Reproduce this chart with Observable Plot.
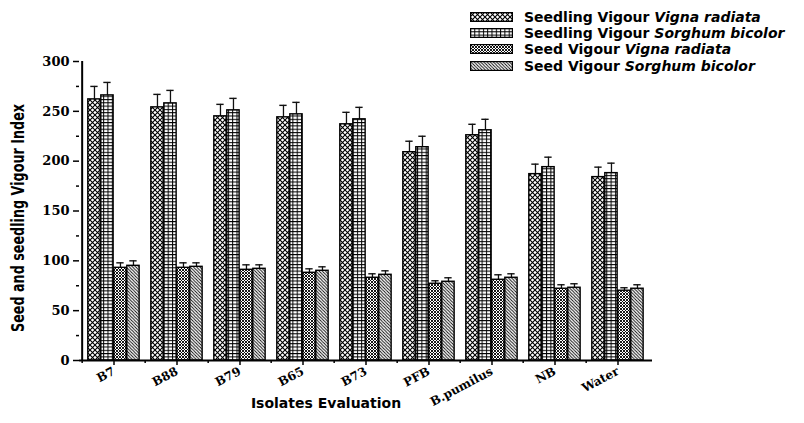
<!DOCTYPE html>
<html><head><meta charset="utf-8">
<script src="https://cdn.jsdelivr.net/npm/d3@7"></script>
<script src="https://cdn.jsdelivr.net/npm/@observablehq/plot@0.6"></script>
<style>
body{margin:0;background:#fff;}
#wrap{position:relative;width:804px;height:423px;}
#legend{position:absolute;left:470px;top:9px;font-family:"DejaVu Sans",sans-serif;font-weight:bold;font-size:14px;color:#000;}
.row{display:flex;align-items:center;height:16.2px;white-space:nowrap;}
.row svg{margin-right:11px;flex:none;}
.row i{font-style:italic;}
</style></head><body>
<div id="wrap">
<svg id="defs" width="0" height="0" style="position:absolute;left:0;top:0">
  <defs>
    <pattern id="p1" patternUnits="userSpaceOnUse" width="5" height="5">
      <rect width="5" height="5" fill="#fff"/>
      <path d="M0,0L5,5M5,0L0,5" stroke="#000" stroke-width="1.1"/>
    </pattern>
    <pattern id="p2" patternUnits="userSpaceOnUse" width="4.3" height="3.3">
      <rect width="4.3" height="3.3" fill="#fff"/>
      <path d="M0,0.5H4.3M0.5,0V3.3" stroke="#000" stroke-width="1"/>
    </pattern>
    <pattern id="p3" patternUnits="userSpaceOnUse" width="3" height="3">
      <rect width="3" height="3" fill="#fff"/>
      <path d="M0,0L3,3M3,0L0,3" stroke="#000" stroke-width="0.9"/>
    </pattern>
    <pattern id="p4" patternUnits="userSpaceOnUse" width="3.2" height="3.2">
      <rect width="3.2" height="3.2" fill="#fff"/>
      <path d="M0,0L3.2,3.2M-1,2.2L1,4.2M2.2,-1L4.2,1" stroke="#000" stroke-width="0.9"/>
    </pattern>
  </defs>
</svg>
<div id="chart"></div>
<div id="legend"></div>
</div>
<script>
const categories = ["B7","B88","B79","B65","B73","PFB","B.pumilus","NB","Water"];
const seedlingVigna      = [262, 254, 245, 244, 237, 209, 226, 187, 184];
const seedlingVignaErr   = [13, 13, 12, 12, 12, 11, 11, 10, 10];
const seedlingSorghum    = [266, 258, 251, 247, 242, 214, 231, 194, 188];
const seedlingSorghumErr = [13, 13, 12, 12, 12, 11, 11, 10, 10];
const seedVigna          = [93, 93, 91, 88, 83, 77, 81, 72, 70];
const seedVignaErr       = [5, 5, 5, 4, 4, 3, 5, 4, 3];
const seedSorghum        = [95, 94, 92, 90, 86, 79, 83, 73, 72];
const seedSorghumErr     = [5, 4, 4, 4, 4, 4, 4, 4, 4];
const yTicks = [0, 50, 100, 150, 200, 250, 300];
const yMinorTicks = [25, 75, 125, 175, 225, 275];
const seriesNames = [
  ["Seedling Vigour ", "Vigna radiata"],
  ["Seedling Vigour ", "Sorghum bicolor"],
  ["Seed Vigour ", "Vigna radiata"],
  ["Seed Vigour ", "Sorghum bicolor"]
];
const xTitle = "Isolates Evaluation";
const yTitle = "Seed and seedling Vigour Index";

const rows = categories.map((c, i) => ({
  cat: c,
  s0: seedlingVigna[i], e0: seedlingVignaErr[i],
  s1: seedlingSorghum[i], e1: seedlingSorghumErr[i],
  s2: seedVigna[i], e2: seedVignaErr[i],
  s3: seedSorghum[i], e3: seedSorghumErr[i]
}));
const fills = ["url(#p1)", "url(#p2)", "url(#p3)", "url(#p4)"];

const W = 804, H = 423, mL = 79, mR = 152, mT = 61, mB = 63;
const bw = (W - mL - mR) / categories.length;
const gIn = 5.8, barW = 13;
const serif = "'DejaVu Serif', serif";
const sans = "'DejaVu Sans', sans-serif";

const marks = [];
[0,1,2,3].forEach(k => {
  const l = gIn + barW * k, r = bw - l - barW;
  marks.push(Plot.ruleX(rows, {x: "cat", y1: "s" + k, y2: d => d["s"+k] + d["e"+k], dx: l + barW/2 - bw/2, stroke: "#111", strokeWidth: 1.3}));
  marks.push(Plot.tickY(rows, {x: "cat", y: d => d["s"+k] + d["e"+k], insetLeft: l + 2.5, insetRight: r + 2.5, stroke: "#111", strokeWidth: 1.4}));
  marks.push(Plot.barY(rows, {x: "cat", y: "s" + k, insetLeft: l, insetRight: r, fill: fills[k], stroke: "#000", strokeWidth: 1.4}));
});

const chart = Plot.plot({
  width: W, height: H,
  marginLeft: mL, marginRight: mR, marginTop: mT, marginBottom: mB,
  style: {background: "#fff", color: "#000"},
  x: {type: "band", domain: categories, paddingInner: 0, paddingOuter: 0, axis: null},
  y: {domain: [0, 300], axis: null},
  marks: [
    ...marks,
    Plot.ruleY([0], {strokeWidth: 2}),
    Plot.ruleX([categories[0]], {y1: 0, y2: 300, dx: -bw/2, strokeWidth: 2}),
    Plot.axisY({ticks: yTicks, tickSize: 6, tickPadding: 4, label: null, fontFamily: serif, fontWeight: "bold", fontSize: 13, strokeWidth: 1.5}),
    Plot.axisY({ticks: yMinorTicks, tickSize: 3, tickFormat: () => "", label: null, strokeWidth: 1.5}),
    Plot.axisX({tickSize: 5, tickRotate: -28, tickPadding: 5, label: null, fontFamily: serif, fontWeight: "bold", fontSize: 12, strokeWidth: 1.5}),
    Plot.axisX({tickSize: 3, dx: -bw/2, tickFormat: () => "", label: null, strokeWidth: 1.5}),
    Plot.text([yTitle], {frameAnchor: "left", textAnchor: "middle", rotate: -90, dx: -61, dy: 7, fontFamily: "'Liberation Sans Narrow', 'DejaVu Sans Condensed', sans-serif", fontWeight: "bold", fontSize: 17}),
    Plot.text([xTitle], {frameAnchor: "bottom", dy: 47, dx: -40, fontFamily: sans, fontWeight: "bold", fontSize: 14})
  ]
});
document.getElementById("chart").appendChild(chart);
d3.select(chart).selectAll("text")
  .filter(function() { return this.textContent === yTitle; })
  .attr("textLength", 228).attr("lengthAdjust", "spacingAndGlyphs");

const legend = document.getElementById("legend");
seriesNames.forEach((n, k) => {
  const row = document.createElement("div");
  row.className = "row";
  row.innerHTML = `<svg width="43" height="10"><rect x="0.6" y="0.6" width="41.8" height="8.8" fill="${fills[k]}" stroke="#000" stroke-width="1.2"/></svg><span>${n[0]}<i>${n[1]}</i></span>`;
  legend.appendChild(row);
});
</script>
</body></html>
